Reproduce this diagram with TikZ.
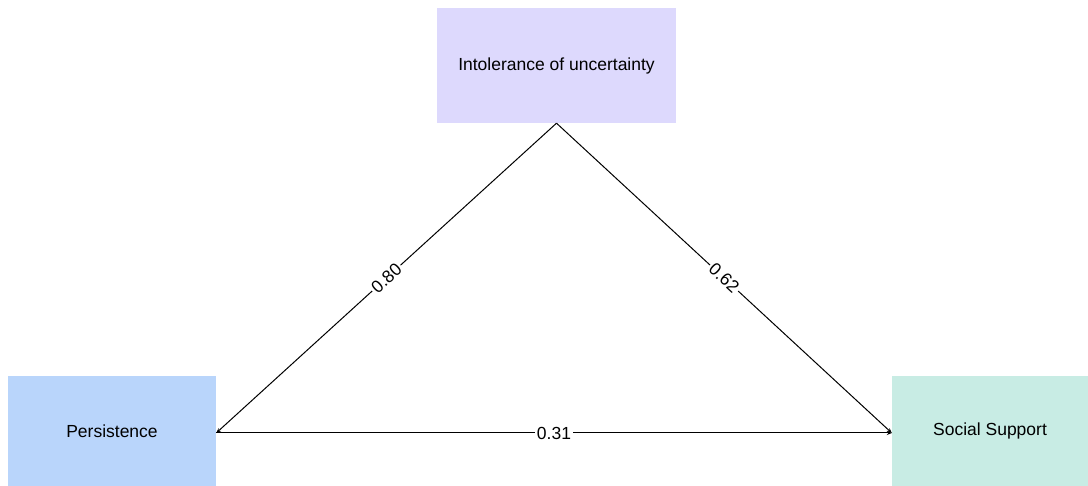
\documentclass[tikz,border=0pt]{standalone}
\usepackage{fontspec}
\setmainfont{Liberation Sans}
\usetikzlibrary{arrows.meta}

\definecolor{iucol}{HTML}{DDD9FD}
\definecolor{perscol}{HTML}{B9D5FB}
\definecolor{soccol}{HTML}{C8ECE4}

\tikzset{
  var/.style={inner sep=0pt,font=\fontsize{17.5}{20}\selectfont},
  path/.style={line width=1pt,-{Stealth[length=5pt,width=4pt]}},
  coef/.style={fill=white,inner sep=2pt,font=\fontsize{17.5}{20}\selectfont}
}

\begin{document}
\begin{tikzpicture}[x=1pt,y=-1pt]
  \useasboundingbox (0,0) rectangle (1088,486);

  % variables
  \node[var,fill=iucol,minimum width=239pt,minimum height=115pt] (iu) at (556.5,65.5) {Intolerance of uncertainty};
  \node[var,fill=perscol,minimum width=208pt,minimum height=110pt] (pers) at (112,431) {Persistence};
  \node[var,fill=soccol,minimum width=196pt,minimum height=110pt] (soc) at (990,431) {Social Support};
  \coordinate (pe) at ([yshift=-2pt]pers.east);
  \coordinate (sw) at ([yshift=-2pt]soc.west);

  % paths with coefficients
  \draw[path] (iu.south) -- node[coef,sloped] {0.80} (pe);
  \draw[path] (iu.south) -- node[coef,sloped] {0.62} (sw);
  \draw[path] (pe) -- node[coef] {0.31} (sw);
\end{tikzpicture}
\end{document}
